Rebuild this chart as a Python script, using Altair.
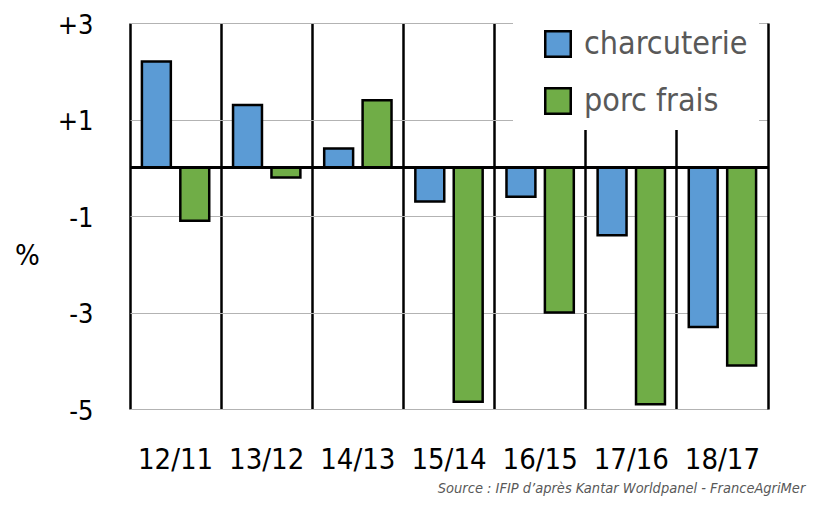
import altair as alt
import pandas as pd

periods = ["12/11", "13/12", "14/13", "15/14", "16/15", "17/16", "18/17"]
series = ["charcuterie", "porc frais"]
charcuterie = [2.2, 1.3, 0.4, -0.7, -0.6, -1.4, -3.3]
porc_frais = [-1.1, -0.2, 1.4, -4.85, -3.0, -4.9, -4.1]
colors = ["#5b9bd5", "#70ad47"]
y_ticks = [-5, -3, -1, 1, 3]

rows = []
for p, c, f in zip(periods, charcuterie, porc_frais):
    rows.append({"periode": p, "serie": series[0], "valeur": c})
    rows.append({"periode": p, "serie": series[1], "valeur": f})
df = pd.DataFrame(rows)

FONT = "DejaVu Sans Condensed, Roboto, sans-serif"
W, H = 638, 386

x_enc = alt.X(
    "periode:N",
    sort=periods,
    scale=alt.Scale(paddingInner=0, paddingOuter=0, round=False),
    axis=alt.Axis(
        title=None,
        bandPosition=0,
        grid=True,
        gridColor="black",
        gridWidth=2.5,
        gridOpacity=1,
        ticks=False,
        domain=False,
        labelPadding=36,
        labelFontSize=29,
        labelFont=FONT,
        labelColor="black",
        labelAngle=0,
        labelBaseline="top",
    ),
)

y_scale = alt.Scale(domain=[-5, 3], nice=False, zero=False)

y_enc = alt.Y(
    "valeur:Q",
    scale=y_scale,
    axis=alt.Axis(
        title="%",
        titleAngle=0,
        titleFont=FONT,
        titleFontSize=29,
        titleFontWeight="normal",
        titleColor="black",
        titleX=-103,
        titleY=232,
        titleAlign="center",
        titleBaseline="middle",
        values=y_ticks,
        labelExpr="datum.value > 0 ? '+' + datum.value : '-' + abs(datum.value)",
        labelFont=FONT,
        labelFontSize=27,
        labelColor="black",
        labelPadding=37,
        labelBaseline="middle",
        labelOffset=2,
        ticks=False,
        domain=False,
        grid=True,
        gridColor="#b3b3b3",
        gridWidth=1,
    ),
)

bars = alt.Chart(df).mark_bar(stroke="black", strokeWidth=2.5).encode(
    x=x_enc,
    xOffset=alt.XOffset(
        "serie:N",
        sort=series,
        scale=alt.Scale(paddingInner=0.247, paddingOuter=0.31, round=False),
    ),
    y=y_enc,
    color=alt.Color(
        "serie:N",
        sort=series,
        scale=alt.Scale(domain=series, range=colors),
        legend=alt.Legend(
            title=None,
            orient="none",
            legendX=383,
            legendY=-6,
            fillColor="white",
            padding=11,
            symbolType="square",
            symbolSize=650,
            symbolStrokeColor="black",
            symbolStrokeWidth=2.5,
            symbolOpacity=1,
            symbolOffset=18,
            labelFont=FONT,
            labelFontSize=32,
            labelColor="#595959",
            labelOffset=10,
            rowPadding=21,
            labelLimit=400,
        ),
    ),
)

zero = alt.Chart(df).mark_rule(color="black", strokeWidth=2.5).encode(
    y=alt.YDatum(
        0,
        axis=alt.Axis(
            orient="right",
            title=None,
            labels=False,
            ticks=False,
            grid=False,
            domain=True,
            domainColor="black",
            domainWidth=2.5,
            zindex=3,
        ),
    )
)

chart = alt.layer(bars, zero).resolve_axis(y="independent").properties(
    width=W,
    height=H,
    autosize="none",
    padding={"left": 122, "top": 15, "right": 44, "bottom": 93},
    title=alt.TitleParams(
        "Source : IFIP d’après Kantar Worldpanel - FranceAgriMer",
        orient="bottom",
        anchor="end",
        font=FONT,
        fontSize=14.5,
        fontStyle="italic",
        fontWeight="normal",
        color="#595959",
        offset=8,
        dx=36,
    ),
).configure_view(stroke=None)

chart.save("out.html", embed_options={"renderer": "svg", "actions": False})
